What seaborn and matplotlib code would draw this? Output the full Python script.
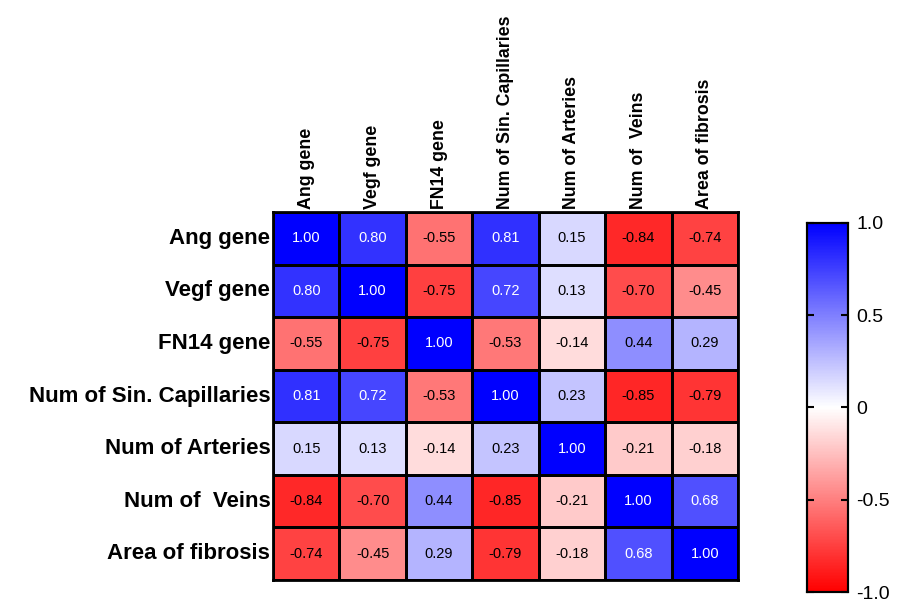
import numpy as np
import pandas as pd
import seaborn as sns
import matplotlib.pyplot as plt
from matplotlib.colors import LinearSegmentedColormap

# DATOS
variables = ['Ang gene', 'Vegf gene', 'FN14 gene', 'Num of Sin. Capillaries',
             'Num of Arteries', 'Num of  Veins', 'Area of fibrosis']

fila_ang = [1.00, 0.80, -0.55, 0.81, 0.15, -0.84, -0.74]
fila_vegf = [0.80, 1.00, -0.75, 0.72, 0.13, -0.70, -0.45]
fila_fn14 = [-0.55, -0.75, 1.00, -0.53, -0.14, 0.44, 0.29]
fila_capilares = [0.81, 0.72, -0.53, 1.00, 0.23, -0.85, -0.79]
fila_arterias = [0.15, 0.13, -0.14, 0.23, 1.00, -0.21, -0.18]
fila_venas = [-0.84, -0.70, 0.44, -0.85, -0.21, 1.00, 0.68]
fila_fibrosis = [-0.74, -0.45, 0.29, -0.79, -0.18, 0.68, 1.00]

cbar_ticks = [-1.0, -0.5, 0, 0.5, 1.0]
cbar_labels = ['-1.0', '-0.5', '0', '0.5', '1.0']

df = pd.DataFrame([fila_ang, fila_vegf, fila_fn14, fila_capilares,
                   fila_arterias, fila_venas, fila_fibrosis],
                  index=variables, columns=variables)

plt.rcParams['font.family'] = ['Liberation Sans', 'DejaVu Sans']

cmap = LinearSegmentedColormap.from_list('rwb', ['#ff0000', '#ffffff', '#0000ff'])

fig = plt.figure(figsize=(9.08, 6.02), dpi=100)
ax = fig.add_axes([0.3007, 0.0365, 0.5121, 0.6113])
cax = fig.add_axes([0.8888, 0.0166, 0.0452, 0.613])

sns.heatmap(df, ax=ax, cbar_ax=cax, cmap=cmap, vmin=-1, vmax=1,
            linewidths=0.8, linecolor='black', annot=False)

# ANOTACIONES
for i in range(len(variables)):
    for j in range(len(variables)):
        v = df.iloc[i, j]
        color = 'white' if v >= 0.6 else 'black'
        ax.text(j + 0.5, i + 0.5, f'{v:.2f}', ha='center', va='center',
                fontsize=10.5, color=color)

ax.xaxis.tick_top()
ax.set_xticklabels(variables, rotation=90, fontsize=12.8, fontweight='bold')
ax.set_yticklabels(variables, rotation=0, fontsize=16, fontweight='bold')
ax.tick_params(length=0, pad=2)
ax.set_xlabel('')
ax.set_ylabel('')
for s in ax.spines.values():
    s.set_visible(True)
    s.set_linewidth(2)
    s.set_color('black')

# BARRA DE COLOR
cax.set_yticks(cbar_ticks)
cax.set_yticklabels(cbar_labels, fontsize=14)
cax.tick_params(direction='in', left=True, right=True, length=5, width=1.5, pad=6)
for s in cax.spines.values():
    s.set_visible(True)
    s.set_linewidth(1.5)
    s.set_color('black')

fig.savefig('out.png', dpi=100)
